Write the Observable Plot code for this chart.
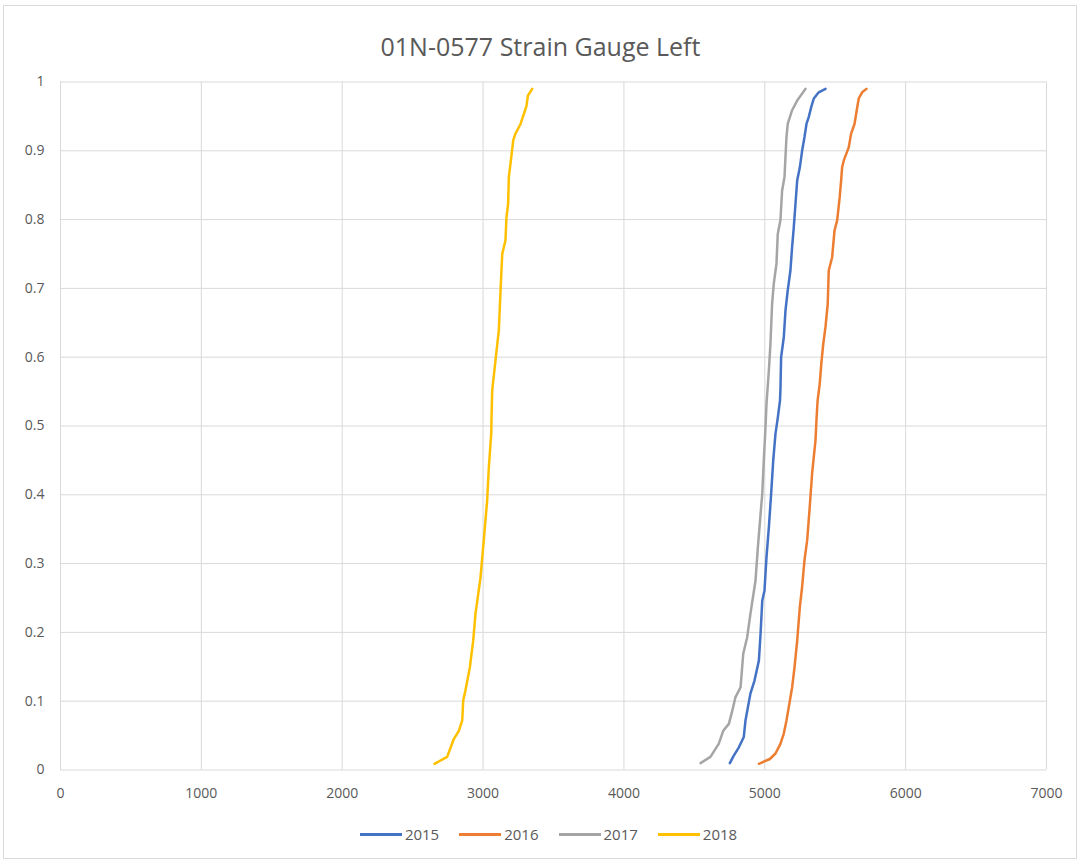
<!DOCTYPE html>
<html>
<head>
<meta charset="utf-8">
<script src="https://cdn.jsdelivr.net/npm/d3@7"></script>
<script src="https://cdn.jsdelivr.net/npm/@observablehq/plot@0.6"></script>
<style>
  html, body { margin: 0; padding: 0; background: #fff; }
  #chart {
    position: relative; width: 1081px; height: 863px; overflow: hidden;
    font-family: "Open Sans", sans-serif; color: #595959;
  }
  #frame {
    position: absolute; left: 3px; top: 5px; width: 1074px; height: 854px;
    border: 1px solid #d9d9d9; box-sizing: border-box; pointer-events: none;
  }
  #title {
    height: 60px; box-sizing: border-box; padding-top: 31px;
    text-align: center; font-size: 25px; line-height: 30px; color: #595959;
    white-space: nowrap;
  }
  #plot svg { display: block; }
  #legend {
    display: flex; justify-content: center; align-items: center;
    gap: 20px; margin-top: 4px; padding-left: 16px; font-size: 15px; color: #595959;
  }
  .item { display: flex; align-items: center; gap: 3px; }
  .swatch { width: 42px; height: 3px; }
</style>
</head>
<body>
<div id="chart">
  <div id="frame"></div>
  <div id="title">01N-0577 Strain Gauge Left</div>
  <div id="plot"></div>
  <div id="legend"></div>
</div>
<script>
// Cumulative probability of strain readings per year: [strain, probability]
const years = ["2015", "2016", "2017", "2018"];
const colors = ["#4472C4", "#ED7D31", "#A5A5A5", "#FFC000"];

const s2015 = [
  [4752,0.010],[4780,0.021],[4816,0.033],[4851,0.048],[4863,0.072],[4898,0.111],
  [4927,0.130],[4958,0.159],[4970,0.198],[4982,0.246],[4998,0.261],[5012,0.309],
  [5029,0.353],[5045,0.401],[5060,0.450],[5076,0.489],[5093,0.513],[5108,0.537],
  [5111,0.552],[5116,0.600],[5135,0.629],[5147,0.668],[5163,0.697],[5182,0.726],
  [5194,0.760],[5206,0.789],[5218,0.823],[5230,0.857],[5249,0.876],[5265,0.900],
  [5282,0.920],[5296,0.939],[5312,0.949],[5329,0.963],[5348,0.976],[5383,0.985],
  [5431,0.990]
];
const s2016 = [
  [4958,0.009],[5036,0.016],[5076,0.024],[5111,0.038],[5135,0.053],[5154,0.072],
  [5170,0.091],[5194,0.120],[5211,0.149],[5230,0.188],[5249,0.237],[5265,0.266],
  [5282,0.305],[5301,0.334],[5319,0.382],[5336,0.431],[5360,0.479],[5368,0.513],
  [5375,0.537],[5390,0.561],[5401,0.590],[5415,0.619],[5431,0.644],[5447,0.678],
  [5454,0.726],[5478,0.745],[5495,0.784],[5514,0.799],[5532,0.833],[5542,0.857],
  [5549,0.876],[5561,0.886],[5596,0.905],[5613,0.925],[5637,0.939],[5656,0.963],
  [5667,0.976],[5691,0.985],[5722,0.990]
];
const s2017 = [
  [4544,0.010],[4614,0.019],[4673,0.038],[4705,0.057],[4745,0.067],[4769,0.086],
  [4792,0.106],[4828,0.120],[4847,0.169],[4875,0.193],[4898,0.227],[4934,0.275],
  [4951,0.324],[4970,0.372],[4982,0.401],[4993,0.450],[5005,0.498],[5012,0.532],
  [5029,0.581],[5040,0.619],[5052,0.678],[5064,0.707],[5083,0.736],[5092,0.779],
  [5111,0.799],[5123,0.842],[5140,0.862],[5149,0.900],[5154,0.920],[5163,0.939],
  [5194,0.959],[5230,0.973],[5289,0.990]
];
const s2018 = [
  [2655,0.009],[2745,0.019],[2792,0.045],[2828,0.057],[2852,0.072],[2859,0.101],
  [2875,0.116],[2906,0.149],[2930,0.188],[2946,0.227],[2982,0.280],[3005,0.334],
  [3029,0.392],[3041,0.440],[3058,0.489],[3060,0.513],[3065,0.552],[3088,0.595],
  [3112,0.639],[3124,0.697],[3136,0.750],[3159,0.770],[3166,0.803],[3178,0.823],
  [3183,0.862],[3200,0.890],[3214,0.915],[3230,0.925],[3266,0.939],[3308,0.965],
  [3318,0.980],[3349,0.990]
];

const xTicks = [0, 1000, 2000, 3000, 4000, 5000, 6000, 7000];
const yTicks = [0, 0.1, 0.2, 0.3, 0.4, 0.5, 0.6, 0.7, 0.8, 0.9, 1];

const series = [s2015, s2016, s2017, s2018];
const rows = series.flatMap((s, i) => s.map(([strain, p]) => ({year: years[i], strain, p})));

const gridColor = "#d9d9d9";

const chart = Plot.plot({
  width: 1081,
  height: 760,
  marginLeft: 60,
  marginRight: 35,
  marginTop: 21.5,
  marginBottom: 50.5,
  style: {fontFamily: "'Open Sans', sans-serif", fontSize: "14px", color: "#595959", background: "transparent", overflow: "visible"},
  x: {domain: [0, 7000], label: null},
  y: {domain: [0, 1], label: null},
  color: {domain: years, range: colors},
  marks: [
    Plot.gridX(xTicks, {stroke: gridColor, strokeOpacity: 1}),
    Plot.gridY(yTicks, {stroke: gridColor, strokeOpacity: 1}),
    Plot.axisX(xTicks, {tickSize: 0, tickPadding: 18, fill: "#595959", label: null, tickFormat: d => String(d)}),
    Plot.axisY(yTicks, {tickSize: 0, tickPadding: 16, fill: "#595959", label: null, tickFormat: d => String(d)}),
    Plot.line(rows, {x: "strain", y: "p", stroke: "year", z: "year", strokeWidth: 2.5, strokeLinejoin: "round", strokeLinecap: "round"})
  ]
});
document.getElementById("plot").appendChild(chart);

// Legend below the plot
const legend = document.getElementById("legend");
years.forEach((y, i) => {
  const item = document.createElement("div");
  item.className = "item";
  const sw = document.createElement("div");
  sw.className = "swatch";
  sw.style.background = colors[i];
  const label = document.createElement("span");
  label.textContent = y;
  item.appendChild(sw);
  item.appendChild(label);
  legend.appendChild(item);
});
</script>
</body>
</html>
